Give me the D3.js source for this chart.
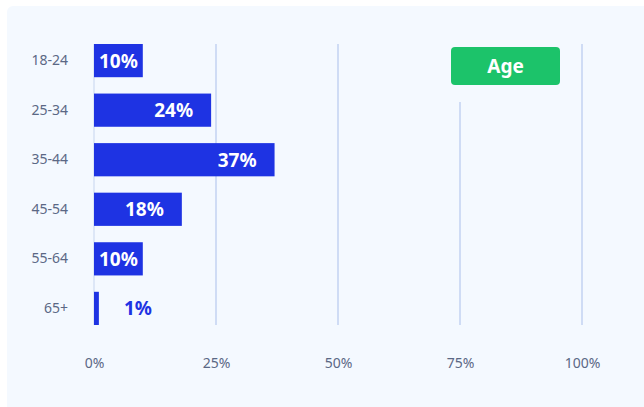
<!DOCTYPE html>
<html>
<head>
<meta charset="utf-8">
<script src="https://cdn.jsdelivr.net/npm/d3@7"></script>
<style>
  html, body { margin: 0; padding: 0; background: #ffffff; }
  svg { display: block; }
  text { font-family: "Noto Sans", "Open Sans", sans-serif; }
</style>
</head>
<body>
<svg id="chart" width="644" height="407"></svg>
<script>
// Age distribution
const categories = ["18-24", "25-34", "35-44", "45-54", "55-64", "65+"];
const shares = [10, 24, 37, 18, 10, 1];
const tickValues = [0, 25, 50, 75, 100];
const legendTitle = "Age";

const svg = d3.select("#chart");
const W = 644, H = 407;

// panel background
svg.append("rect")
  .attr("x", 7).attr("y", 6)
  .attr("width", W).attr("height", H)
  .attr("rx", 6)
  .attr("fill", "#f4f9ff");

const x = d3.scaleLinear().domain([0, 100]).range([94, 582]);
const y = d3.scaleBand().domain(categories).range([44, 325]).paddingInner(0.33).paddingOuter(0);

// vertical grid
svg.append("g").selectAll("line")
  .data(tickValues)
  .join("line")
  .attr("x1", d => x(d)).attr("x2", d => x(d))
  .attr("y1", 44).attr("y2", 325)
  .attr("stroke", d => d === 0 ? "#dde7f7" : "#cfdcf5")
  .attr("stroke-width", 2);

// x axis labels
const xAxis = d3.axisBottom(x).tickValues(tickValues).tickFormat(d => d + "%").tickSize(0).tickPadding(0);
const gx = svg.append("g").attr("transform", "translate(0,358)").call(xAxis);
gx.select(".domain").remove();
gx.selectAll("text")
  .attr("fill", "#5b6885")
  .attr("font-size", 14)
  .attr("font-family", "'Noto Sans', sans-serif");

// y axis labels
const yAxis = d3.axisLeft(y).tickSize(0).tickPadding(0);
const gy = svg.append("g").attr("transform", "translate(68,0)").call(yAxis);
gy.select(".domain").remove();
gy.selectAll("text")
  .attr("fill", "#5b6885")
  .attr("font-size", 14)
  .attr("font-family", "'Noto Sans', sans-serif");

// legend badge, with a panel-coloured backdrop over the grid
const legend = svg.append("g");
legend.append("rect")
  .attr("x", 440).attr("y", 40).attr("width", 130).attr("height", 62)
  .attr("fill", "#f4f9ff");
legend.append("rect")
  .attr("x", 451).attr("y", 47).attr("width", 109).attr("height", 38)
  .attr("rx", 4)
  .attr("fill", "#1cc36a");
legend.append("text")
  .attr("x", 505.5).attr("y", 66)
  .attr("text-anchor", "middle")
  .attr("dominant-baseline", "central")
  .attr("fill", "#ffffff")
  .attr("font-size", 19)
  .attr("font-weight", 700)
  .text(legendTitle);

const rows = categories.map((c, i) => ({ cat: c, value: shares[i] }));

// bars
svg.append("g").selectAll("rect")
  .data(rows)
  .join("rect")
  .attr("x", x(0))
  .attr("y", d => y(d.cat))
  .attr("width", d => x(d.value) - x(0))
  .attr("height", y.bandwidth())
  .attr("fill", "#1e33e3");

// value labels: inside the bar when they fit, otherwise just past it
const labels = svg.append("g").selectAll("text")
  .data(rows)
  .join("text")
  .attr("y", d => y(d.cat) + y.bandwidth() / 2)
  .attr("dominant-baseline", "central")
  .attr("font-size", 19)
  .attr("font-weight", 700)
  .text(d => d.value + "%");

labels.each(function(d) {
  const t = d3.select(this);
  const tw = this.getComputedTextLength();
  const bw = x(d.value) - x(0);
  if (bw >= tw + 6) {
    const pad = Math.min(18, (bw - tw) / 2);
    t.attr("x", x(d.value) - pad).attr("text-anchor", "end").attr("fill", "#ffffff");
  } else {
    t.attr("x", x(d.value) + 25).attr("text-anchor", "start").attr("fill", "#1e33e3");
  }
});
</script>
</body>
</html>
